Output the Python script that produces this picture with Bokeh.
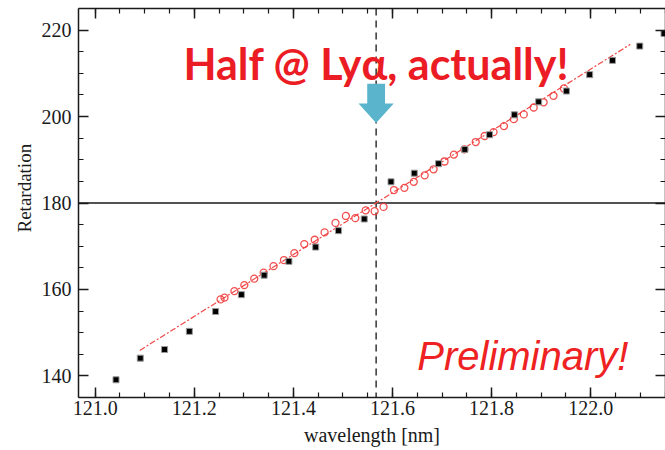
from bokeh.plotting import figure
from bokeh.models import (Range1d, LinearAxis, Span, Label, Title, SingleIntervalTicker,
                          CustomJSTickFormatter, NumeralTickFormatter)
from bokeh.embed import file_html
from bokeh.resources import INLINE

# ---- data ----
meas_wl = [121.042, 121.091, 121.140, 121.190, 121.243, 121.295, 121.341, 121.391,
           121.445, 121.491, 121.543, 121.597, 121.644, 121.693, 121.746, 121.796,
           121.846, 121.895, 121.951, 121.998, 122.044, 122.099, 122.148]
meas_ret = [139.1, 144.1, 146.1, 150.3, 154.9, 158.8, 163.3, 166.5,
            169.8, 173.6, 176.3, 184.9, 186.9, 189.1, 192.4, 195.8,
            200.4, 203.4, 205.9, 209.7, 213.0, 216.3, 219.2]

model_wl = [121.253, 121.261, 121.281, 121.301, 121.321, 121.340, 121.360, 121.381,
            121.402, 121.422, 121.443, 121.463, 121.485, 121.506, 121.525, 121.546,
            121.564, 121.582, 121.603, 121.624, 121.643, 121.665, 121.683, 121.705,
            121.724, 121.745, 121.768, 121.786, 121.804, 121.825, 121.845, 121.865,
            121.885, 121.905, 121.925, 121.946]
model_ret = [157.7, 158.1, 159.6, 161.0, 162.5, 163.9, 165.4, 166.8,
             168.4, 170.5, 171.5, 173.2, 175.4, 177.0, 176.5, 178.3,
             178.1, 179.1, 183.0, 183.5, 184.9, 186.4, 187.8, 189.6,
             191.2, 192.4, 194.1, 195.5, 196.4, 197.8, 199.4, 200.5,
             202.1, 203.3, 204.8, 206.5]

fit_wl = [121.09, 122.08]
fit_ret = [145.9, 216.7]

LYA = 121.567          # Lyman-alpha wavelength [nm]
HALF_WAVE = 180        # retardation for half wave

x_tick_interval = 0.2
y_tick_interval = 20

# ---- styles ----
RED = "#ec1c24"
INK = "#1a1a1a"
SERIF = "Liberation Serif"

p = figure(width=665, height=450, output_backend="svg", toolbar_location=None,
           x_range=Range1d(120.9663, 122.151), y_range=Range1d(135, 225),
           min_border_left=78, min_border_right=0, min_border_top=8, min_border_bottom=53,
           background_fill_color="white", border_fill_color="white")
p.grid.visible = False
p.outline_line_color = None

bottom_ax = p.below[0]
left_ax = p.left[0]
bottom_ax.ticker = SingleIntervalTicker(interval=x_tick_interval, num_minor_ticks=4)
left_ax.ticker = SingleIntervalTicker(interval=y_tick_interval, num_minor_ticks=4)
bottom_ax.formatter = NumeralTickFormatter(format="0.0")
left_ax.formatter = NumeralTickFormatter(format="0")

blank = CustomJSTickFormatter(code="return '';")
top_ax = LinearAxis(ticker=SingleIntervalTicker(interval=x_tick_interval, num_minor_ticks=4),
                    formatter=blank)
right_ax = LinearAxis(ticker=SingleIntervalTicker(interval=y_tick_interval, num_minor_ticks=4),
                      formatter=blank)
p.add_layout(top_ax, "above")
p.add_layout(right_ax, "right")

for ax in [bottom_ax, left_ax, top_ax, right_ax]:
    ax.major_tick_in = 10
    ax.major_tick_out = 0
    ax.minor_tick_in = 5
    ax.minor_tick_out = 0
    ax.axis_line_width = 1.5
    ax.axis_line_color = INK
    ax.major_tick_line_width = 1.5
    ax.major_tick_line_color = INK
    ax.minor_tick_line_width = 1.2
    ax.minor_tick_line_color = INK
    ax.major_label_text_font = SERIF
    ax.major_label_text_font_size = "20px"
    ax.major_label_text_color = INK
    ax.axis_label_text_font = SERIF
    ax.axis_label_text_font_style = "normal"
    ax.axis_label_text_color = INK

for ax in [top_ax, right_ax]:
    ax.major_label_standoff = 0

bottom_ax.axis_label = "wavelength [nm]"
bottom_ax.axis_label_text_font_size = "20px"
bottom_ax.major_label_standoff = 3
bottom_ax.axis_label_standoff = 6

left_ax.major_label_standoff = 7

# y-axis title, sitting a little above the frame centre as in the reference
p.add_layout(Title(text="Retardation", align="left", offset=165, standoff=8,
                   text_font=SERIF, text_font_size="19px", text_font_style="normal",
                   text_color=INK), "left")

# reference lines
p.add_layout(Span(location=HALF_WAVE, dimension="width", line_color=INK,
                  line_width=1.5, level="underlay"))
p.add_layout(Span(location=LYA, dimension="height", line_color="#333333",
                  line_width=1.5, line_dash="7 5", level="underlay"))

# fit line and model points
p.line(fit_wl, fit_ret, line_color="#f04848", line_width=1.2, line_dash="6 2 2 2")
p.scatter(model_wl, model_ret, marker="circle", size=7, fill_color=None,
          line_color="#f03c3c", line_width=1.3, line_alpha=0.9)

# measured points
p.scatter(meas_wl, meas_ret, marker="square", size=6, fill_color="black",
          line_color="#9a9a9a", line_width=1)

# arrow pointing at Ly-alpha
ARROW_TOP, ARROW_NECK, ARROW_TIP = 207.6, 203.0, 198.5
SHAFT_HW, HEAD_HW = 0.018, 0.0355
p.patch([LYA - SHAFT_HW, LYA + SHAFT_HW, LYA + SHAFT_HW, LYA + HEAD_HW, LYA,
         LYA - HEAD_HW, LYA - SHAFT_HW],
        [ARROW_TOP, ARROW_TOP, ARROW_NECK, ARROW_NECK, ARROW_TIP, ARROW_NECK, ARROW_NECK],
        fill_color="#5ab4cc", line_color=None)

p.add_layout(Label(x=121.178, y=212.2, text="Half @ Lyα, actually!",
                   text_font="Lato", text_font_style="bold", text_font_size="43px",
                   text_color=RED, text_baseline="alphabetic"))
p.add_layout(Label(x=121.650, y=144.5, text="Preliminary!",
                   text_font="Liberation Sans", text_font_style="italic",
                   text_font_size="40px", text_color="#ee2222",
                   text_baseline="alphabetic"))

open("out.html", "w").write(file_html(p, INLINE))
